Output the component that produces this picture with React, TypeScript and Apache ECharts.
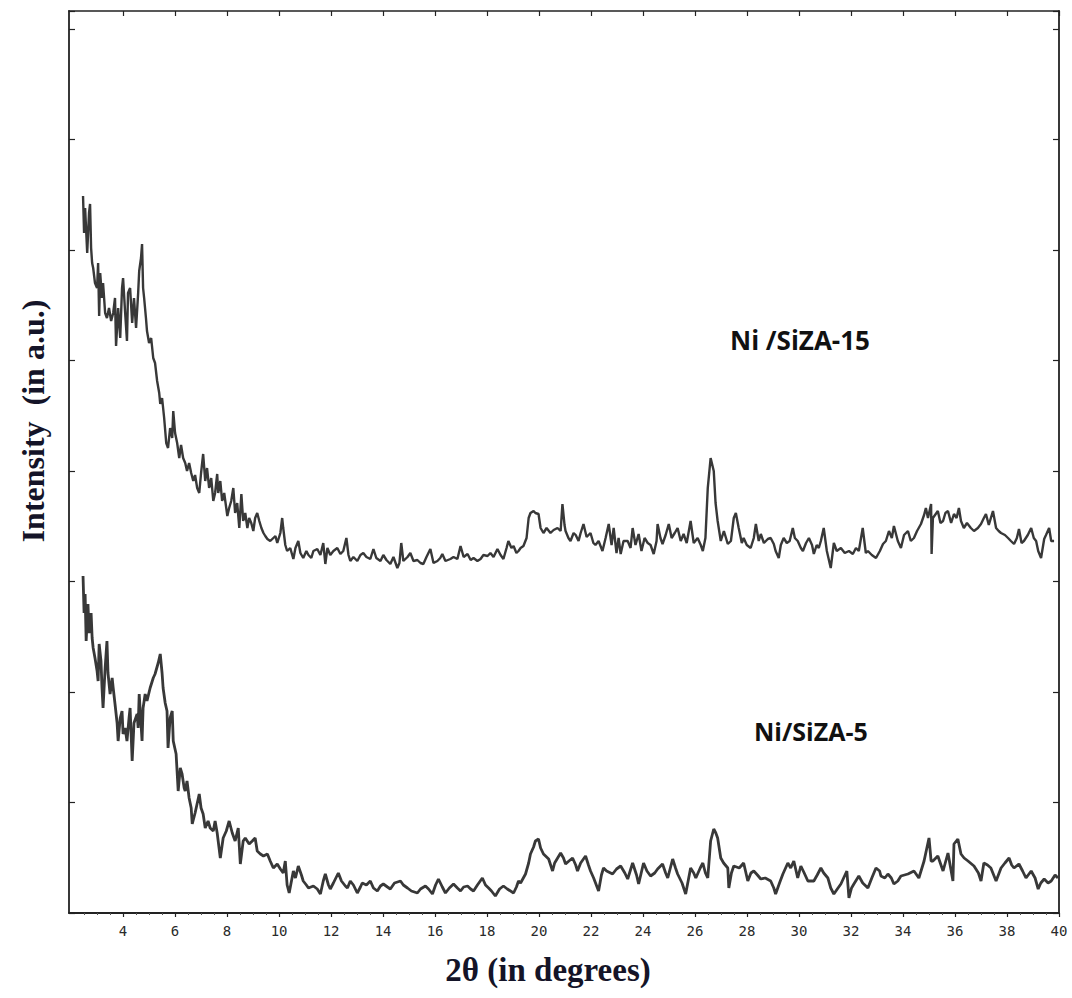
import React, { useEffect, useRef } from "react";
import * as echarts from "echarts";

// X axis (2θ, degrees)
const X_MIN = 1.92;
const X_MAX = 40;
const X_TICKS = [4, 6, 8, 10, 12, 14, 16, 18, 20, 22, 24, 26, 28, 30, 32, 34, 36, 38, 40];
const X_MINOR_TICKS = [2.5, 3, 3.5, 4.5, 5, 5.5, 6.5, 7, 7.5, 8.5, 9, 9.5, 10.5, 11, 11.5, 12.5, 13, 13.5, 14.5, 15, 15.5, 16.5, 17, 17.5, 18.5, 19, 19.5, 20.5, 21, 21.5, 22.5, 23, 23.5, 24.5, 25, 25.5, 26.5, 27, 27.5, 28.5, 29, 29.5, 30.5, 31, 31.5, 32.5, 33, 33.5, 34.5, 35, 35.5, 36.5, 37, 37.5, 38.5, 39, 39.5];
// Y axis (intensity, a.u.)
const Y_MAX = 902;
const Y_STEP = 110.5;

const SERIES_NAMES = ["Ni /SiZA-15", "Ni/SiZA-5"];

// Ni/SiZA-15 (upper trace)
const SIZA15_ANGLE = [
  2.46, 2.5, 2.54, 2.62, 2.69, 2.73, 2.77, 2.81, 2.85, 2.92, 3.0, 3.04, 3.08, 3.12, 3.19, 3.23, 3.31, 3.38, 3.46, 3.54,
  3.62, 3.69, 3.73, 3.81, 3.89, 3.96, 4.0, 4.08, 4.15, 4.19, 4.27, 4.35, 4.42, 4.5, 4.58, 4.62, 4.69, 4.73, 4.77, 4.81,
  4.88, 4.92, 5.0, 5.08, 5.16, 5.23, 5.31, 5.39, 5.43, 5.5, 5.58, 5.66, 5.73, 5.81, 5.89, 5.93, 6.0, 6.08, 6.16, 6.23,
  6.31, 6.39, 6.46, 6.54, 6.62, 6.7, 6.77, 6.85, 6.93, 7.0, 7.08, 7.16, 7.23, 7.31, 7.39, 7.47, 7.54, 7.62, 7.66, 7.74,
  7.81, 7.89, 8.01, 8.08, 8.16, 8.24, 8.31, 8.39, 8.47, 8.55, 8.62, 8.7, 8.78, 8.85, 8.93, 9.01, 9.08, 9.16, 9.24, 9.32,
  9.4, 9.47, 9.55, 9.66, 9.78, 9.86, 9.93, 10.05, 10.12, 10.16, 10.24, 10.31, 10.43, 10.55, 10.63, 10.74, 10.82, 10.93, 11.05, 11.13,
  11.24, 11.32, 11.47, 11.59, 11.7, 11.78, 11.86, 11.97, 12.09, 12.24, 12.36, 12.47, 12.59, 12.67, 12.74, 12.86, 13.01, 13.13, 13.24, 13.36,
  13.51, 13.63, 13.74, 13.9, 14.01, 14.13, 14.28, 14.4, 14.55, 14.63, 14.7, 14.78, 14.94, 15.05, 15.17, 15.32, 15.44, 15.55, 15.67, 15.82,
  15.94, 16.09, 16.2, 16.28, 16.4, 16.59, 16.71, 16.86, 16.98, 17.1, 17.25, 17.37, 17.48, 17.63, 17.75, 17.86, 18.02, 18.13, 18.25, 18.4,
  18.52, 18.63, 18.75, 18.82, 18.94, 19.02, 19.13, 19.21, 19.29, 19.4, 19.52, 19.6, 19.67, 19.79, 19.86, 19.98, 20.06, 20.17, 20.29, 20.44,
  20.56, 20.71, 20.83, 20.9, 20.98, 21.02, 21.13, 21.21, 21.33, 21.41, 21.52, 21.6, 21.71, 21.83, 21.98, 22.09, 22.17, 22.29, 22.44, 22.56,
  22.68, 22.79, 22.87, 22.98, 23.06, 23.14, 23.25, 23.41, 23.52, 23.6, 23.71, 23.83, 23.94, 24.06, 24.18, 24.29, 24.41, 24.52, 24.56, 24.67,
  24.75, 24.87, 24.99, 25.1, 25.22, 25.33, 25.45, 25.56, 25.68, 25.83, 25.95, 26.1, 26.22, 26.3, 26.4, 26.49, 26.6, 26.72, 26.79, 26.87,
  26.99, 27.11, 27.26, 27.38, 27.49, 27.57, 27.68, 27.8, 27.87, 27.99, 28.14, 28.26, 28.34, 28.45, 28.53, 28.65, 28.8, 28.91, 29.03, 29.1,
  29.22, 29.3, 29.41, 29.53, 29.64, 29.76, 29.84, 29.95, 30.07, 30.15, 30.27, 30.38, 30.5, 30.57, 30.68, 30.76, 30.84, 30.95, 31.07, 31.22,
  31.34, 31.45, 31.61, 31.76, 31.92, 32.07, 32.19, 32.3, 32.45, 32.57, 32.65, 32.8, 32.96, 33.11, 33.23, 33.34, 33.46, 33.57, 33.65, 33.8,
  33.92, 34.04, 34.19, 34.3, 34.42, 34.54, 34.69, 34.81, 34.88, 34.96, 35.08, 35.1, 35.15, 35.34, 35.44, 35.54, 35.63, 35.73, 35.85, 35.96,
  36.06, 36.15, 36.23, 36.34, 36.46, 36.61, 36.73, 36.88, 37.0, 37.11, 37.19, 37.3, 37.46, 37.58, 37.68, 37.77, 37.92, 38.04, 38.15, 38.27,
  38.38, 38.46, 38.56, 38.65, 38.8, 38.93, 39.03, 39.12, 39.2, 39.31, 39.43, 39.5, 39.62, 39.7, 39.81,
];
const SIZA15_INTENSITY = [
  717, 680, 705, 660, 700, 709, 665, 650, 645, 630, 625, 650, 597, 640, 615, 630, 600, 595, 605, 592,
  600, 615, 567, 605, 575, 625, 635, 600, 572, 620, 625, 590, 615, 585, 620, 642, 655, 669, 625, 615,
  595, 582, 570, 575, 555, 550, 532, 520, 509, 515, 495, 470, 465, 485, 475, 502, 480, 470, 455, 468,
  455, 450, 442, 450, 440, 432, 438, 425, 420, 440, 459, 432, 445, 425, 435, 412, 420, 439, 420, 432,
  412, 420, 397, 405, 412, 425, 400, 410, 385, 419, 392, 400, 385, 395, 390, 382, 395, 400, 392, 385,
  380, 377, 374, 372, 375, 377, 370, 380, 395, 385, 368, 362, 365, 354, 365, 372, 360, 355, 362, 358,
  355, 362, 364, 358, 370, 349, 365, 358, 362, 365, 359, 362, 375, 358, 352, 356, 352, 358, 360, 356,
  354, 364, 355, 352, 358, 353, 349, 356, 345, 350, 370, 352, 356, 360, 352, 353, 350, 349, 356, 364,
  350, 352, 355, 359, 352, 354, 356, 354, 367, 356, 359, 353, 355, 352, 354, 358, 357, 360, 356, 364,
  358, 354, 365, 372, 365, 367, 360, 362, 365, 367, 375, 395, 400, 402, 400, 399, 385, 380, 385, 380,
  383, 385, 382, 409, 388, 382, 375, 372, 380, 378, 372, 380, 389, 376, 380, 370, 368, 372, 362, 375,
  389, 368, 385, 360, 375, 359, 372, 372, 365, 385, 368, 379, 362, 375, 370, 368, 359, 372, 389, 375,
  369, 378, 389, 375, 380, 385, 372, 379, 370, 392, 370, 375, 368, 362, 375, 425, 455, 442, 410, 392,
  372, 382, 369, 372, 395, 400, 385, 370, 375, 368, 365, 375, 389, 372, 379, 370, 374, 375, 369, 362,
  355, 368, 375, 370, 372, 385, 375, 372, 365, 362, 370, 375, 368, 359, 368, 365, 372, 385, 362, 345,
  370, 362, 365, 360, 362, 359, 365, 362, 385, 360, 362, 358, 355, 362, 369, 372, 382, 375, 387, 372,
  365, 378, 382, 372, 375, 382, 389, 398, 405, 395, 409, 359, 395, 402, 390, 392, 400, 402, 390, 399,
  395, 405, 392, 385, 390, 385, 382, 385, 389, 395, 399, 388, 402, 385, 382, 380, 378, 375, 372, 369,
  375, 384, 370, 372, 378, 385, 375, 372, 362, 355, 374, 378, 385, 372, 372,
];

// Ni/SiZA-5 (lower trace)
const SIZA5_ANGLE = [
  2.46, 2.5, 2.54, 2.58, 2.65, 2.69, 2.73, 2.77, 2.81, 2.85, 2.92, 3.0, 3.04, 3.08, 3.15, 3.19, 3.23, 3.31, 3.38, 3.42,
  3.5, 3.58, 3.62, 3.69, 3.77, 3.81, 3.89, 3.96, 4.0, 4.08, 4.15, 4.23, 4.27, 4.35, 4.42, 4.54, 4.58, 4.62, 4.73, 4.77,
  4.85, 4.92, 5.04, 5.16, 5.23, 5.35, 5.43, 5.5, 5.54, 5.62, 5.69, 5.73, 5.81, 5.89, 5.93, 6.04, 6.12, 6.2, 6.27, 6.35,
  6.39, 6.46, 6.54, 6.62, 6.66, 6.77, 6.93, 7.0, 7.08, 7.16, 7.27, 7.35, 7.47, 7.54, 7.62, 7.74, 7.85, 7.97, 8.08, 8.2,
  8.31, 8.43, 8.51, 8.62, 8.7, 8.85, 8.97, 9.08, 9.16, 9.28, 9.4, 9.55, 9.66, 9.78, 9.93, 10.05, 10.16, 10.24, 10.31, 10.39,
  10.55, 10.63, 10.74, 10.86, 10.93, 11.05, 11.13, 11.32, 11.47, 11.59, 11.7, 11.78, 11.9, 11.97, 12.09, 12.28, 12.4, 12.55, 12.63, 12.74,
  12.86, 13.01, 13.13, 13.2, 13.36, 13.51, 13.63, 13.78, 13.9, 14.01, 14.17, 14.28, 14.44, 14.67, 14.78, 14.94, 15.09, 15.32, 15.44, 15.63,
  15.75, 15.9, 16.02, 16.13, 16.28, 16.4, 16.55, 16.71, 16.86, 16.98, 17.1, 17.25, 17.37, 17.48, 17.63, 17.82, 17.94, 18.06, 18.17, 18.32,
  18.48, 18.63, 18.78, 19.02, 19.13, 19.21, 19.29, 19.48, 19.6, 19.67, 19.79, 19.86, 19.98, 20.06, 20.17, 20.37, 20.52, 20.6, 20.83, 20.94,
  21.02, 21.15, 21.29, 21.41, 21.48, 21.6, 21.79, 21.9, 21.98, 22.1, 22.29, 22.4, 22.48, 22.6, 22.83, 22.98, 23.14, 23.3, 23.41, 23.6,
  23.75, 23.83, 24.02, 24.15, 24.29, 24.45, 24.56, 24.75, 24.87, 24.95, 25.14, 25.25, 25.33, 25.5, 25.64, 25.83, 25.95, 26.03, 26.2, 26.3,
  26.4, 26.49, 26.6, 26.72, 26.8, 26.87, 26.99, 27.1, 27.26, 27.3, 27.4, 27.49, 27.7, 27.87, 28.03, 28.15, 28.26, 28.4, 28.53, 28.7,
  28.91, 29.03, 29.1, 29.25, 29.38, 29.57, 29.68, 29.8, 29.95, 30.07, 30.2, 30.34, 30.57, 30.7, 30.84, 30.95, 31.11, 31.22, 31.34, 31.5,
  31.61, 31.84, 31.92, 32.02, 32.11, 32.3, 32.45, 32.65, 32.8, 32.96, 33.1, 33.15, 33.3, 33.42, 33.55, 33.65, 33.8, 33.92, 34.19, 34.42,
  34.61, 34.81, 35.0, 35.08, 35.15, 35.34, 35.54, 35.73, 35.92, 35.96, 36.11, 36.23, 36.35, 36.5, 36.73, 36.9, 37.0, 37.11, 37.25, 37.38,
  37.58, 37.77, 37.92, 38.08, 38.18, 38.27, 38.46, 38.6, 38.73, 38.93, 39.08, 39.2, 39.3, 39.43, 39.58, 39.7, 39.85, 39.96,
];
const SIZA5_INTENSITY = [
  337, 300, 319, 272, 309, 280, 285, 300, 275, 265, 255, 242, 232, 269, 252, 225, 205, 245, 272, 240,
  219, 235, 225, 209, 190, 172, 195, 202, 179, 185, 172, 195, 205, 152, 190, 199, 185, 219, 172, 205,
  219, 212, 225, 235, 239, 250, 259, 240, 225, 210, 202, 165, 195, 202, 172, 159, 122, 145, 139, 125,
  122, 132, 115, 105, 89, 100, 119, 105, 99, 85, 92, 85, 82, 92, 80, 55, 75, 82, 92, 80,
  72, 85, 49, 72, 75, 69, 72, 75, 62, 59, 57, 59, 52, 45, 49, 44, 40, 52, 28, 20,
  42, 35, 47, 38, 32, 28, 25, 27, 24, 19, 32, 39, 28, 24, 30, 40, 32, 27, 25, 32,
  28, 20, 26, 30, 28, 32, 25, 22, 27, 29, 26, 24, 30, 32, 28, 25, 22, 20, 24, 27,
  24, 19, 28, 34, 26, 20, 25, 29, 25, 22, 26, 27, 24, 22, 28, 35, 28, 25, 22, 17,
  24, 27, 24, 20, 26, 32, 30, 39, 50, 59, 66, 72, 74, 65, 59, 54, 42, 50, 60, 55,
  49, 52, 55, 48, 42, 50, 57, 48, 42, 35, 22, 38, 45, 42, 39, 44, 47, 40, 34, 50,
  38, 29, 50, 42, 37, 40, 44, 49, 40, 35, 54, 45, 39, 30, 19, 45, 40, 35, 45, 50,
  40, 35, 72, 84, 80, 75, 55, 50, 45, 25, 40, 47, 45, 50, 32, 40, 42, 38, 34, 35,
  32, 25, 19, 30, 39, 50, 45, 52, 35, 47, 40, 32, 32, 38, 45, 40, 35, 25, 19, 25,
  29, 42, 15, 25, 29, 37, 30, 25, 35, 45, 42, 37, 35, 39, 35, 29, 32, 37, 39, 42,
  35, 52, 75, 52, 52, 57, 42, 60, 32, 69, 74, 59, 55, 52, 47, 40, 32, 50, 48, 45,
  32, 45, 50, 55, 48, 45, 49, 42, 35, 42, 35, 24, 30, 34, 30, 32, 38, 35,
];

const zip = (xs: number[], ys: number[]) => xs.map((x, i) => [x, ys[i]]);

const AXIS_COLOR = "#222";
const TRACE_COLOR = "#383838";
const SERIF = "'Liberation Serif', 'DejaVu Serif', serif";

export default function App() {
  const ref = useRef<HTMLDivElement>(null);
  useEffect(() => {
    const chart = echarts.init(ref.current!, null, { renderer: "svg" });
    const hiddenLabel = { show: false };
    chart.setOption({
      animation: false,
      backgroundColor: "#ffffff",
      grid: { left: 69, right: 13, top: 11, bottom: 85, containLabel: false },
      xAxis: [
        {
          type: "value",
          position: "bottom",
          min: X_MIN,
          max: X_MAX,
          axisLine: { show: true, onZero: false, lineStyle: { color: AXIS_COLOR, width: 1.8 } },
          axisTick: { show: true, inside: false, length: 4, customValues: X_TICKS, lineStyle: { color: AXIS_COLOR, width: 1.2 } },
          axisLabel: {
            show: true,
            customValues: X_TICKS,
            margin: 11,
            color: "#2a2a2a",
            fontSize: 14,
            fontFamily: "'DejaVu Sans Mono', monospace",
          },
          splitLine: { show: false },
        },
        {
          type: "value",
          position: "top",
          min: X_MIN,
          max: X_MAX,
          axisLine: { show: true, onZero: false, lineStyle: { color: AXIS_COLOR, width: 1.6 } },
          axisTick: { show: true, inside: true, length: 5, customValues: X_TICKS, lineStyle: { color: AXIS_COLOR, width: 1.2 } },
          axisLabel: hiddenLabel,
          splitLine: { show: false },
        },
        {
          type: "value",
          position: "bottom",
          min: X_MIN,
          max: X_MAX,
          axisLine: { show: false },
          axisTick: { show: true, inside: false, length: 2, customValues: X_MINOR_TICKS, lineStyle: { color: "#555", width: 1 } },
          axisLabel: hiddenLabel,
          splitLine: { show: false },
        },
      ],
      yAxis: [
        {
          type: "value",
          position: "left",
          min: 0,
          max: Y_MAX,
          interval: Y_STEP,
          axisLine: { show: true, onZero: false, lineStyle: { color: AXIS_COLOR, width: 1.8 } },
          axisTick: { show: true, inside: true, length: 6, lineStyle: { color: AXIS_COLOR, width: 1.2 } },
          axisLabel: hiddenLabel,
          splitLine: { show: false },
        },
        {
          type: "value",
          position: "right",
          min: 0,
          max: Y_MAX,
          interval: Y_STEP,
          axisLine: { show: true, onZero: false, lineStyle: { color: AXIS_COLOR, width: 1.8 } },
          axisTick: { show: true, inside: true, length: 6, lineStyle: { color: AXIS_COLOR, width: 1.2 } },
          axisLabel: hiddenLabel,
          splitLine: { show: false },
        },
      ],
      series: [
        {
          name: SERIES_NAMES[0],
          type: "line",
          xAxisIndex: 0,
          yAxisIndex: 0,
          data: zip(SIZA15_ANGLE, SIZA15_INTENSITY),
          showSymbol: false,
          lineStyle: { color: TRACE_COLOR, width: 2.4, join: "bevel" },
        },
        {
          name: SERIES_NAMES[1],
          type: "line",
          xAxisIndex: 0,
          yAxisIndex: 0,
          data: zip(SIZA5_ANGLE, SIZA5_INTENSITY),
          showSymbol: false,
          lineStyle: { color: TRACE_COLOR, width: 2.8, join: "bevel" },
        },
      ],
      graphic: [
        {
          type: "text",
          x: 33,
          y: 421,
          rotation: Math.PI / 2,
          style: {
            text: "Intensity  (in a.u.)",
            font: `bold 32px ${SERIF}`,
            fill: "#141428",
            textAlign: "center",
            textVerticalAlign: "middle",
          },
        },
        {
          type: "text",
          x: 548,
          y: 970,
          style: {
            text: "2θ (in degrees)",
            font: `bold 33px ${SERIF}`,
            fill: "#141428",
            textAlign: "center",
            textVerticalAlign: "middle",
          },
        },
        {
          type: "text",
          x: 730,
          y: 340,
          style: {
            text: SERIES_NAMES[0],
            font: "bold 26px 'Open Sans', sans-serif",
            fill: "#111",
            textAlign: "left",
            textVerticalAlign: "middle",
          },
        },
        {
          type: "text",
          x: 754,
          y: 731,
          style: {
            text: SERIES_NAMES[1],
            font: "bold 25px 'Open Sans', sans-serif",
            fill: "#111",
            textAlign: "left",
            textVerticalAlign: "middle",
          },
        },
      ],
    });
    return () => chart.dispose();
  }, []);
  return (
    <div
      ref={ref}
      style={{ position: "fixed", left: 0, top: 0, width: 1072, height: 998, background: "#fff" }}
    />
  );
}
